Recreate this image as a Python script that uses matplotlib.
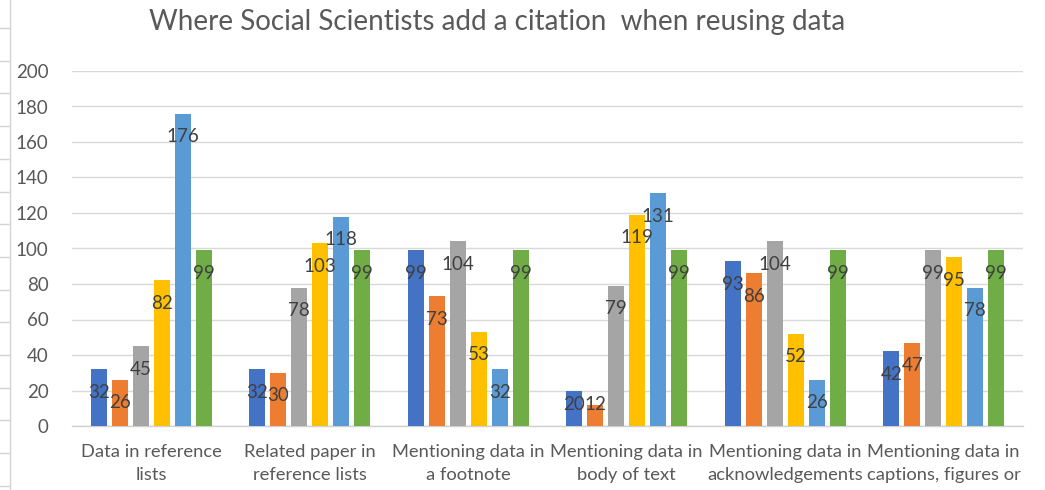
import matplotlib.pyplot as plt
from matplotlib.lines import Line2D
import numpy as np

# Chart data
categories = [
    'Data in reference\nlists',
    'Related paper in\nreference lists',
    'Mentioning data in\na footnote',
    'Mentioning data in\nbody of text',
    'Mentioning data in\nacknowledgements',
    'Mentioning data in\ncaptions, figures or',
]
series_1 = [32, 32, 99, 20, 93, 42]
series_2 = [26, 30, 73, 12, 86, 47]
series_3 = [45, 78, 104, 79, 104, 99]
series_4 = [82, 103, 53, 119, 52, 95]
series_5 = [176, 118, 32, 131, 26, 78]
series_6 = [99, 99, 99, 99, 99, 99]
y_ticks = [0, 20, 40, 60, 80, 100, 120, 140, 160, 180, 200]

title = 'Where Social Scientists add a citation  when reusing data'
colors = ['#4472C4', '#ED7D31', '#A5A5A5', '#FFC000', '#5B9BD5', '#70AD47']

plt.rcParams['font.family'] = ['Lato', 'DejaVu Sans']

W, H = 1045, 490
fig = plt.figure(figsize=(W / 100, H / 100), dpi=100)
ax = fig.add_axes([72 / W, (H - 426) / H, (1023 - 72) / W, (426 - 71) / H])

x = np.arange(len(categories))
pitch = 0.1325
width = 0.101
all_series = [series_1, series_2, series_3, series_4, series_5, series_6]
for i, (vals, col) in enumerate(zip(all_series, colors)):
    pos = x + (i - 2.5) * pitch
    ax.bar(pos, vals, width=width, color=col, zorder=3)
    for p, v in zip(pos, vals):
        ax.text(p, max(v - 13, 12), str(v), ha='center', va='center',
                fontsize=13.5, color='#404040', zorder=4)

ax.set_xlim(-0.5, len(categories) - 0.5)
ax.set_ylim(0, 200)
ax.set_yticks(y_ticks)
ax.set_xticks(x)
ax.set_xticklabels(categories, fontsize=13.2, color='#595959', linespacing=1.5)
ax.tick_params(axis='y', labelsize=13.5, labelcolor='#595959', length=0, pad=17)
ax.tick_params(axis='x', length=0, pad=13)
ax.grid(axis='y', color='#D9D9D9', linewidth=1.0, zorder=0)
for s in ['top', 'right', 'left']:
    ax.spines[s].set_visible(False)
ax.spines['bottom'].set_color('#D0D0D0')
ax.spines['bottom'].set_linewidth(1.0)

fig.text(497 / W, 1 - 22 / H, title, ha='center', va='center',
         fontsize=20, color='#595959')

# spreadsheet edge on the left side of the screenshot
fig.add_artist(Line2D([10 / W, 10 / W], [0, 1], color='#D4D4D4', lw=1))
for k in range(16):
    yy = 1 - (28 + 32.7 * k) / H
    if yy > 0:
        fig.add_artist(Line2D([0, 10 / W], [yy, yy], color='#D4D4D4', lw=1))

fig.savefig('out.png', dpi=100)
